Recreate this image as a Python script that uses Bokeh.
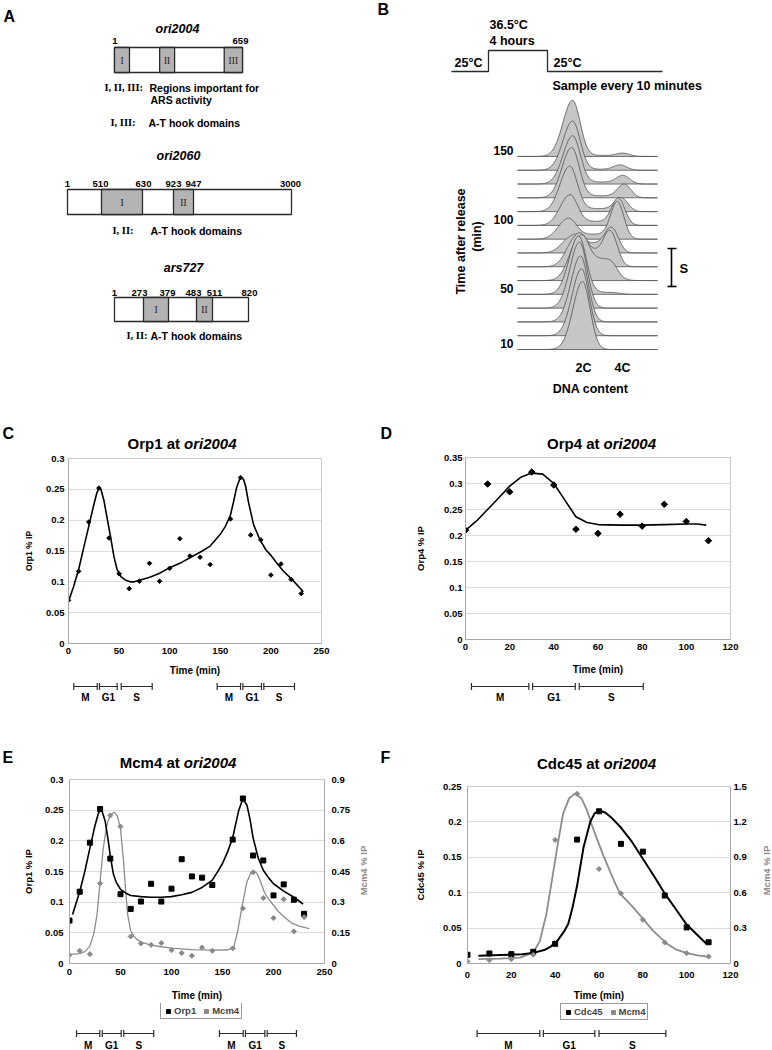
import numpy as np
from bokeh.plotting import figure
from bokeh.models import (Range1d, LinearAxis, FixedTicker, CustomJSTickFormatter,
                          Whisker, TeeHead, ColumnDataSource, Legend, LegendItem)
from bokeh.layouts import column, row
from bokeh.embed import file_html
from bokeh.resources import INLINE
from bokeh.core.properties import value

SANS = "Liberation Sans"
SERIF = "Liberation Serif"

# ------------------------------------------------------------------ data
# Panel A: origin maps (sequence coordinates)
ori2004_ends = [1, 659]
ori2004_regions = [(1, 78), (233, 310), (565, 659)]
ori2004_region_names = ["I", "II", "III"]
ori2060_marks = [1, 510, 630, 923, 947, 3000]
ori2060_region_names = ["I", "II"]
ars727_marks = [1, 273, 379, 483, 511, 820]
ars727_region_names = ["I", "II"]

# Panel B: flow cytometry profiles (time after release, peak parameters)
flow_time = [10, 20, 30, 40, 50, 60, 70, 80, 90, 100, 110, 120, 130, 140, 150]
flow_2c_height = [68, 67, 66, 66, 58, 40, 30, 16, 20, 30, 45, 50, 48, 49, 56]
flow_2c_pos = [582, 581, 580, 579, 578, 578, 576, 571, 567, 569, 569, 571, 572, 572, 572]
flow_s_height = [0, 0, 0, 0, 2, 22, 16, 10, 5, 4, 3, 2, 2, 1, 1]
flow_4c_height = [0, 0, 0, 0, 0, 2, 30, 22, 36, 26, 13, 13, 8, 5, 3]
flow_4c_pos = [622, 622, 622, 622, 622, 618, 611, 612, 617, 618, 621, 624, 623, 620, 623]
flow_time_labels = [150, 100, 50, 10]

# Panel C / E: Orp1 at ori2004
orp1_time = [0, 10, 20, 30, 40, 50, 60, 70, 80, 90, 100, 110, 120, 130, 140, 160, 170, 180, 190, 200, 210, 220, 230]
orp1_ip = [0.070, 0.117, 0.197, 0.252, 0.171, 0.113, 0.089, 0.101, 0.130, 0.101, 0.122, 0.170, 0.142, 0.140,
           0.128, 0.202, 0.269, 0.176, 0.168, 0.111, 0.129, 0.104, 0.081]
orp1_fit_c_t = [1, 5, 10, 15, 20, 25, 28, 30, 32, 35, 38, 41, 45, 48, 52, 56, 61, 65, 71, 81, 90, 100, 110, 120,
                130, 140, 150, 155, 160, 163, 166, 169, 171, 173, 175, 178, 183, 189, 195, 199, 205, 212, 222, 232]
orp1_fit_c_v = [0.073, 0.092, 0.120, 0.155, 0.190, 0.225, 0.244, 0.252, 0.250, 0.232, 0.205, 0.178, 0.140, 0.120,
                0.108, 0.103, 0.100, 0.100, 0.103, 0.108, 0.114, 0.123, 0.130, 0.139, 0.148, 0.158, 0.177, 0.190,
                0.208, 0.229, 0.252, 0.266, 0.269, 0.266, 0.255, 0.228, 0.192, 0.169, 0.152, 0.145, 0.132, 0.118,
                0.102, 0.084]
orp1_fit_e_t = [3, 10, 15, 20, 25, 28, 30, 32, 35, 38, 40, 43, 46, 50, 55, 60, 70, 80, 90, 100, 110, 120, 130,
                140, 145, 150, 155, 160, 163, 166, 169, 171, 174, 177, 180, 185, 190, 195, 200, 210, 220, 229]
orp1_fit_e_v = [0.080, 0.117, 0.150, 0.188, 0.225, 0.243, 0.250, 0.248, 0.232, 0.200, 0.175, 0.146, 0.132, 0.121,
                0.115, 0.111, 0.109, 0.108, 0.108, 0.109, 0.112, 0.116, 0.124, 0.136, 0.149, 0.163, 0.182, 0.205,
                0.228, 0.250, 0.264, 0.266, 0.258, 0.235, 0.205, 0.172, 0.152, 0.140, 0.130, 0.118, 0.108, 0.097]
mcm4_e_ip = [0.042, 0.062, 0.046, 0.392, 0.724, 0.670, 0.132, 0.098, 0.091, 0.100, 0.065, 0.051, 0.038, 0.078,
             0.062, 0.074, 0.270, 0.446, 0.320, 0.222, 0.314, 0.157, 0.227]
mcm4_fit_e_t = [2, 10, 15, 20, 24, 27, 30, 33, 36, 38, 41, 44, 47, 50, 53, 55, 57, 60, 63, 66, 70, 80, 90, 100,
                120, 140, 155, 161, 165, 169, 174, 178, 181, 184, 187, 191, 194, 200, 204, 210, 217, 225, 235]
mcm4_fit_e_v = [0.045, 0.048, 0.058, 0.085, 0.150, 0.240, 0.400, 0.560, 0.660, 0.700, 0.730, 0.740, 0.720, 0.660,
                0.500, 0.360, 0.240, 0.160, 0.135, 0.118, 0.105, 0.090, 0.082, 0.075, 0.068, 0.065, 0.066, 0.078,
                0.160, 0.274, 0.400, 0.445, 0.451, 0.440, 0.405, 0.350, 0.323, 0.285, 0.258, 0.230, 0.200, 0.183,
                0.170]

# Panel D: Orp4 at ori2004
orp4_time = [0, 10, 20, 30, 40, 50, 60, 70, 80, 90, 100, 110]
orp4_ip = [0.210, 0.299, 0.284, 0.322, 0.297, 0.212, 0.204, 0.241, 0.218, 0.260, 0.227, 0.190]
orp4_fit_t = [0, 5, 10, 15, 20, 25, 30, 35, 40, 45, 50, 55, 60, 70, 80, 90, 100, 105, 109]
orp4_fit_v = [0.210, 0.228, 0.250, 0.272, 0.295, 0.312, 0.320, 0.318, 0.300, 0.268, 0.236, 0.225, 0.221, 0.220,
              0.220, 0.221, 0.222, 0.222, 0.220]

# Panel F: Cdc45 and Mcm4 at ori2004
cdc45_time = [0, 10, 20, 30, 40, 50, 60, 70, 80, 90, 100, 110]
cdc45_ip = [0.0123, 0.0142, 0.0132, 0.0165, 0.0278, 0.175, 0.215, 0.169, 0.158, 0.096, 0.051, 0.030]
mcm4_f_ip = [0.017, 0.028, 0.037, 0.074, 1.047, 1.438, 0.801, 0.594, 0.371, 0.178, 0.088, 0.059]
cdc45_fit_t = [5, 15, 25, 30, 35, 38, 41, 44, 46, 48, 50, 53, 56, 58, 60, 63, 66, 70, 75, 80, 85, 90, 95, 100, 105, 109]
cdc45_fit_v = [0.011, 0.012, 0.013, 0.015, 0.019, 0.024, 0.032, 0.045, 0.056, 0.080, 0.110, 0.165, 0.200, 0.212,
               0.216, 0.213, 0.205, 0.192, 0.172, 0.148, 0.124, 0.099, 0.077, 0.055, 0.040, 0.028]
mcm4_fit_f_t = [5, 15, 24, 30, 33, 36, 39, 41, 43.6, 46.4, 49, 52, 54.5, 56.6, 59, 62, 66.5, 69.5, 75.6, 80.2,
                84.7, 90.8, 95, 100, 105, 110.6]
mcm4_fit_f_v = [0.037, 0.042, 0.050, 0.093, 0.190, 0.420, 0.760, 0.990, 1.270, 1.400, 1.440, 1.400, 1.300, 1.180,
                1.060, 0.914, 0.716, 0.594, 0.475, 0.376, 0.277, 0.170, 0.120, 0.088, 0.068, 0.057]

# Cell-cycle phase intervals (minutes)
phase_names = ["M", "G1", "S", "M", "G1", "S"]
phase_c_start = [5.2, 30.6, 52.1, 146.9, 172.3, 193.0]
phase_c_end = [28.4, 48.1, 82.7, 170.0, 190.7, 223.3]
phase_d_start = [2.7, 30.4, 51.5]
phase_d_end = [28.7, 49.7, 80.5]
phase_e_start = [6.9, 32.1, 53.2, 147.0, 172.5, 193.8]
phase_e_end = [29.7, 50.7, 82.6, 170.3, 191.5, 222.5]
phase_f_start = [4.4, 34.6, 60.0]
phase_f_end = [33.0, 58.1, 90.5]

# tick labels
ticks_x250 = [0, 50, 100, 150, 200, 250]
ticks_x120 = [0, 20, 40, 60, 80, 100, 120]
ticks_y030 = [0, 0.05, 0.1, 0.15, 0.2, 0.25, 0.3]
ticks_y035 = [0, 0.05, 0.1, 0.15, 0.2, 0.25, 0.3, 0.35]
ticks_y025 = [0, 0.05, 0.1, 0.15, 0.2, 0.25]
ticks_r090 = [0, 0.15, 0.3, 0.45, 0.6, 0.75, 0.9]
ticks_r150 = [0, 0.3, 0.6, 0.9, 1.2, 1.5]

# ------------------------------------------------------------------ helpers
DARK = "#2b2b2b"
GRAYPT = "#8a8a8a"


def txt(p, x, y, s, size, align="left", style="bold", font=SANS, angle=0.0, color="black"):
    p.text(x=[x], y=[y], text=[s], text_font=value(font), text_font_style=style,
           text_font_size=size, text_align=align, text_baseline="middle", angle=angle,
           text_color=color)


def canvas(x0, x1, y_top, y_bot):
    """Blank drawing area whose data coordinates are page pixels."""
    p = figure(width=int(x1 - x0), height=int(y_bot - y_top), x_range=Range1d(x0, x1),
               y_range=Range1d(y_bot, y_top), x_axis_type=None, y_axis_type=None,
               toolbar_location=None, output_backend="svg", min_border=0, outline_line_color=None)
    p.grid.visible = False
    return p


# ------------------------------------------------------------------ panel A
pa = canvas(0, 370, 0, 400)
txt(pa, 3, 16, "A", "16px")
BOXFILL = "#b3b3b3"


def seq_map(p, title, tx, ty, marks, marks_px, shaded, names, top, bot, label_y, label_px):
    txt(p, tx, ty, title, "12.5px", align="center", style="bold italic")
    p.quad(left=[marks_px[0]], right=[marks_px[-1]], top=[top], bottom=[bot], fill_color="white",
           line_color=DARK, line_width=1.3)
    for (a, b), nm in zip(shaded, names):
        p.quad(left=[a], right=[b], top=[top], bottom=[bot], fill_color=BOXFILL, line_color=DARK,
               line_width=1.3)
        txt(p, (a + b) / 2, (top + bot) / 2 + 0.5, nm, "9.5px", align="center", style="normal", font=SERIF,
            color="#222")
    for m, xp in zip(marks, label_px):
        txt(p, xp, label_y, str(m), "9.5px", align="center")


# ori2004 (drawn to scale 1..659)
def px2004(v):
    return 114 + (v - 1) / (ori2004_ends[1] - 1) * 128


seq_map(pa, "ori2004", 177, 28, ori2004_ends, [px2004(v) for v in ori2004_ends],
        [(px2004(a), px2004(b)) for a, b in ori2004_regions], ori2004_region_names, 47, 72, 40,
        [114.5, 240])
txt(pa, 104, 87, "I, II, III:", "10.5px", font=SERIF)
txt(pa, 149, 87, "Regions important for", "10.5px")
txt(pa, 150, 99, "ARS activity", "10.5px")
txt(pa, 110, 122, "I, III:", "10.5px", font=SERIF)
txt(pa, 148, 122, "A-T hook domains", "10.5px")

# ori2060 (schematic drawing positions)
ori2060_draw = [67, 101, 142, 173, 193, 291]
seq_map(pa, "ori2060", 178, 155, ori2060_marks, ori2060_draw,
        [(ori2060_draw[1], ori2060_draw[2]), (ori2060_draw[3], ori2060_draw[4])], ori2060_region_names,
        189, 214, 183, [67, 100, 143, 173, 193, 290])
txt(pa, 112, 230, "I, II:", "10.5px", font=SERIF)
txt(pa, 150, 230, "A-T hook domains", "10.5px")

# ars727 (schematic drawing positions)
ars727_draw = [114, 143, 168, 196, 212, 248]
seq_map(pa, "ars727", 183, 267, ars727_marks, ars727_draw,
        [(ars727_draw[1], ars727_draw[2]), (ars727_draw[3], ars727_draw[4])], ars727_region_names,
        297, 321, 292, [114, 139, 167, 193, 214, 249])
txt(pa, 126, 335, "I, II:", "10.5px", font=SERIF)
txt(pa, 150, 335, "A-T hook domains", "10.5px")

# ------------------------------------------------------------------ panel B
pb = canvas(370, 772, 0, 400)
txt(pb, 377, 8.5, "B", "16px")
pb.line(x=[451, 488, 488, 547, 547, 662], y=[71, 71, 50, 50, 71, 71], line_color=DARK, line_width=1.3)
txt(pb, 489, 24, "36.5°C", "12.5px")
txt(pb, 489, 40, "4 hours", "12.5px")
txt(pb, 454, 62, "25°C", "12.5px")
txt(pb, 553, 62, "25°C", "12.5px")
txt(pb, 552, 85, "Sample every 10 minutes", "12.5px")

xg = np.linspace(517, 657, 141)


def baseline_y(t):
    return 349 - (t - 10) / 10 * 13.79


xs_all, ys_all = [], []
for i in range(len(flow_time) - 1, -1, -1):
    g1x, g1h = flow_2c_pos[i], flow_2c_height[i]
    g2x, g2h = flow_4c_pos[i], flow_4c_height[i]
    sh = flow_s_height[i]
    sig = np.where(xg < g1x, 9.5, 7.5)
    prof = g1h * np.exp(-0.5 * ((xg - g1x) / sig) ** 2)
    prof += sh / (1 + np.exp(-(xg - (g1x + 4)) / 2.5)) / (1 + np.exp((xg - (g2x - 2)) / 3.0))
    prof += g2h * np.exp(-0.5 * ((xg - g2x) / 6.5) ** 2)
    b = baseline_y(flow_time[i])
    xs_all.append([517] + list(xg) + [657])
    ys_all.append([b] + list(b - prof) + [b])
pb.patches(xs=xs_all, ys=ys_all, fill_color="#c6c6c6", line_color="#505050", line_width=0.8)
for t in flow_time_labels:
    txt(pb, 513, baseline_y(t) - 6, str(t), "12px", align="right")
txt(pb, 460, 241, "Time after release", "12.5px", align="center", angle=np.pi / 2)
txt(pb, 476, 236, "(min)", "12.5px", align="center", angle=np.pi / 2)
pb.line(x=[667, 676], y=[248, 248], line_color="black", line_width=1.6)
pb.line(x=[671, 671], y=[248, 286], line_color="black", line_width=1.6)
pb.line(x=[667, 676], y=[286, 286], line_color="black", line_width=1.6)
txt(pb, 679, 268, "S", "13px")
txt(pb, 583, 367, "2C", "12.5px", align="center")
txt(pb, 622, 367, "4C", "12.5px", align="center")
txt(pb, 590, 388, "DNA content", "12.5px", align="center")

# ------------------------------------------------------------------ charts
fmt_code = "return String(Math.round(tick * 1000) / 1000);"


def style_axes(p, ylabel_size="9.5px"):
    for ax in p.axis:
        ax.major_label_text_font = SANS
        ax.major_label_text_font_style = "bold"
        ax.major_label_text_font_size = "9.5px"
        ax.major_label_text_color = "black"
        ax.axis_label_text_font = SANS
        ax.axis_label_text_font_style = "bold"
        ax.axis_label_text_font_size = ylabel_size
        ax.axis_label_text_color = "black"
        ax.major_tick_line_color = None
        ax.minor_tick_line_color = None
        ax.major_tick_out = 0
        ax.major_tick_in = 0
        ax.minor_tick_out = 0
        ax.minor_tick_in = 0
        ax.axis_line_color = "#a8a8a8"
    p.xaxis.axis_label_text_font_size = "10px"


def chart(g, xticks, yticks, ylabel, xstand, ystand, xlstand, ylstand, ylabel_size="9.5px"):
    """g: figure box (fx0, fx1, fy0, fy1) and frame (L, R, T, B) in page pixels."""
    p = figure(width=g["fx1"] - g["fx0"], height=g["fy1"] - g["fy0"],
               x_range=Range1d(g["x0"], g["x1"]), y_range=Range1d(g["y0"], g["y1"]),
               toolbar_location=None, output_backend="svg",
               min_border_left=g["L"] - g["fx0"], min_border_right=g["fx1"] - g["R"],
               min_border_top=g["T"] - g["fy0"], min_border_bottom=g["fy1"] - g["B"],
               outline_line_color="#c9c9c9")
    p.xaxis.ticker = FixedTicker(ticks=xticks)
    p.yaxis.ticker = FixedTicker(ticks=yticks)
    p.yaxis.formatter = CustomJSTickFormatter(code=fmt_code)
    p.xgrid.visible = False
    p.ygrid.ticker = FixedTicker(ticks=yticks)
    p.ygrid.grid_line_color = "#dcdcdc"
    p.xaxis.axis_label = "Time (min)"
    p.yaxis.axis_label = ylabel
    p.xaxis.major_label_standoff = xstand
    p.yaxis.major_label_standoff = ystand
    p.xaxis.axis_label_standoff = xlstand
    p.yaxis.axis_label_standoff = ylstand
    style_axes(p, ylabel_size)
    return p


def right_axis(p, rng, ticks, stand):
    p.extra_y_ranges = {"mcm": Range1d(*rng)}
    ax = LinearAxis(y_range_name="mcm", ticker=FixedTicker(ticks=ticks),
                    formatter=CustomJSTickFormatter(code=fmt_code), major_label_standoff=stand)
    p.add_layout(ax, "right")
    style_axes(p)
    return ax


def side_label(x0, x1, y0, y1, xc, yc, s):
    """Narrow strip right of a chart carrying its right-axis title (reads bottom to top)."""
    c = canvas(x0, x1, y0, y1)
    txt(c, xc, yc, s, "9.5px", align="center", angle=np.pi / 2, color=GRAYPT)
    return c


def foot(chart_fig, g, y0, y1, starts, ends, ybar, ylab):
    """Strip under a chart, sharing its time scale, with the cell-cycle phase bars."""
    f = figure(width=g["fx1"] - g["fx0"], height=y1 - y0, x_range=chart_fig.x_range,
               y_range=Range1d(y1, y0), x_axis_type=None, y_axis_type=None, toolbar_location=None,
               output_backend="svg", min_border_left=g["L"] - g["fx0"], min_border_right=g["fx1"] - g["R"],
               min_border_top=0, min_border_bottom=0, outline_line_color=None)
    f.grid.visible = False
    src = ColumnDataSource(dict(base=[ybar] * len(starts), lower=starts, upper=ends))
    f.add_layout(Whisker(source=src, base="base", lower="lower", upper="upper", dimension="width",
                         line_color=DARK, line_width=1.2,
                         upper_head=TeeHead(size=7, line_color=DARK, line_width=1.2),
                         lower_head=TeeHead(size=7, line_color=DARK, line_width=1.2)))
    mids = [(a + b) / 2 for a, b in zip(starts, ends)]
    f.text(x=mids, y=[ylab] * len(mids), text=phase_names[:len(mids)], text_font=value(SANS),
           text_font_style="bold", text_font_size="10px", text_align="center", text_baseline="middle")
    return f


def diamonds(p, x, y, size, color, **kw):
    return p.scatter(x=x, y=y, marker="square", angle=np.pi / 4, size=size, fill_color=color,
                     line_color=color, **kw)


def foot_legend(f, labels, xs, ys1, ys2, loc):
    # legend glyphs reuse the series styles; the series lie outside this strip's visible range
    r1 = f.scatter(x=xs, y=ys1, marker="square", size=5, color="black")
    r2 = diamonds(f, xs, ys2, 4.2, GRAYPT)
    f.add_layout(Legend(items=[LegendItem(label=labels[0], renderers=[r1]),
                               LegendItem(label=labels[1], renderers=[r2])],
                        orientation="horizontal", location=loc, margin=0,
                        padding=2, spacing=5, glyph_width=10, glyph_height=10, label_standoff=1,
                        label_height=8, label_text_font=SANS, label_text_font_style="bold",
                        label_text_font_size="9.5px", border_line_color="#9a9a9a",
                        border_line_alpha=1.0, border_line_width=1,
                        background_fill_color="white", background_fill_alpha=1.0))


# ---- bands with panel letters and chart titles
def band(y0, y1, items):
    b = canvas(0, 772, y0, y1)
    for letter, lx, ly, xjoin, ty, left_txt in items:
        txt(b, lx, ly, letter, "16px")
        txt(b, xjoin - 4, ty, left_txt, "15px", align="right")
        txt(b, xjoin, ty, "ori2004", "15px", align="left", style="bold italic")
    return b


band2 = band(400, 452, [("C", 2, 433, 183.5, 443, "Orp1 at"), ("D", 380, 433, 603, 443, "Orp4 at")])
band3 = band(704, 772, [("E", 2, 757, 183.3, 762, "Mcm4 at"), ("F", 380, 757, 603, 763, "Cdc45 at")])

# ---- C
gc = dict(fx0=0, fx1=379, fy0=452, fy1=678, L=68, R=321, T=458, B=643, x0=0, x1=250, y0=0, y1=0.3)
pc = chart(gc, ticks_x250, ticks_y030, "Orp1 % IP", 4, 4, 8, 9, ylabel_size="8.5px")
pc.line(orp1_fit_c_t, orp1_fit_c_v, line_color="black", line_width=1.6)
diamonds(pc, orp1_time, orp1_ip, 3.2, "black")
fc = foot(pc, gc, 678, 704, phase_c_start, phase_c_end, 686, 697)

# ---- D
gd = dict(fx0=379, fx1=772, fy0=452, fy1=678, L=465, R=730, T=457, B=639, x0=0, x1=120, y0=0, y1=0.35)
pd_ = chart(gd, ticks_x120, ticks_y035, "Orp4 % IP", 4, 3, 11, 15)
pd_.line(orp4_fit_t, orp4_fit_v, line_color="black", line_width=1.6)
diamonds(pd_, orp4_time, orp4_ip, 4.6, "black")
fd = foot(pd_, gd, 678, 704, phase_d_start, phase_d_end, 686, 697)

# ---- E
ge = dict(fx0=0, fx1=352, fy0=772, fy1=1003, L=69, R=324, T=779, B=963, x0=0, x1=250, y0=0, y1=0.3)
pe = chart(ge, ticks_x250, ticks_y030, "Orp1 % IP", 5, 6, 12, 8)
right_axis(pe, (0, 0.9), ticks_r090, 7)
pe.line(mcm4_fit_e_t, mcm4_fit_e_v, line_color="#8c8c8c", line_width=1.3, y_range_name="mcm")
pe.line(orp1_fit_e_t, orp1_fit_e_v, line_color="black", line_width=1.6)
pe.scatter(orp1_time, orp1_ip, marker="square", size=5, color="black")
diamonds(pe, orp1_time, mcm4_e_ip, 3.6, GRAYPT, y_range_name="mcm")
fe = foot(pe, ge, 1003, 1050, phase_e_start, phase_e_end, 1033, 1045)
foot_legend(fe, ["Orp1", "Mcm4"], orp1_time, orp1_ip, mcm4_e_ip, (91, 31))
le = side_label(352, 379, 772, 1003, 363, 870, "Mcm4 % IP")

# ---- F
gf = dict(fx0=379, fx1=752, fy0=772, fy1=1003, L=467, R=730, T=786, B=963, x0=0, x1=120, y0=0, y1=0.25)
pf = chart(gf, ticks_x120, ticks_y025, "Cdc45 % IP", 8, 6, 9, 14)
right_axis(pf, (0, 1.5), ticks_r150, 3)
pf.line(mcm4_fit_f_t, mcm4_fit_f_v, line_color="#8c8c8c", line_width=1.8, y_range_name="mcm")
pf.line(cdc45_fit_t, cdc45_fit_v, line_color="black", line_width=2)
pf.scatter(cdc45_time, cdc45_ip, marker="square", size=5, color="black")
diamonds(pf, cdc45_time, mcm4_f_ip, 3.6, GRAYPT, y_range_name="mcm")
ff = foot(pf, gf, 1003, 1050, phase_f_start, phase_f_end, 1033, 1045)
foot_legend(ff, ["Cdc45", "Mcm4"], cdc45_time, cdc45_ip, mcm4_f_ip, (93, 30))
lf = side_label(752, 772, 772, 1003, 766, 870, "Mcm4 % IP")

p = column(row(pa, pb),
           band2,
           row(column(pc, fc), column(pd_, fd)),
           band3,
           row(column(pe, fe), le, column(pf, ff), lf))
open("out.html", "w").write(file_html(p, INLINE))
